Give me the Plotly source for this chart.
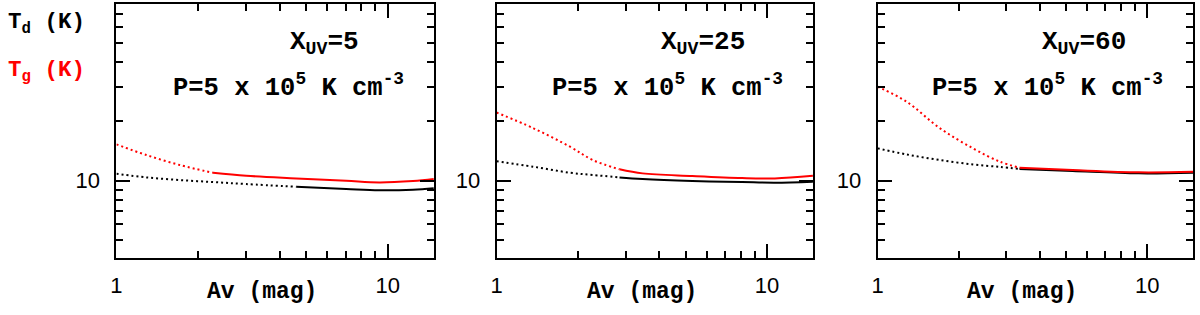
import numpy as np
import plotly.graph_objects as go

# ---------------- data ----------------
av_p1 = [1.0, 1.29, 1.71, 2.27, 3.01, 4.6, 7.03, 9.31, 12.4, 14.8]
tg_p1 = [15.3, 13.5, 12.02, 10.98, 10.6, 10.28, 10.0, 9.81, 9.97, 10.2]
td_p1 = [10.85, 10.4, 10.08, 9.85, 9.62, 9.32, 9.08, 8.94, 9.0, 9.15]

av_p2 = [1.0, 1.37, 1.87, 2.27, 2.85, 3.47, 5.3, 8.09, 10.7, 14.8]
tg_p2 = [22.2, 18.46, 14.88, 12.74, 11.43, 10.9, 10.57, 10.32, 10.28, 10.6]
td_p2 = [12.55, 11.78, 10.98, 10.7, 10.4, 10.2, 9.97, 9.85, 9.77, 9.89]

av_p3 = [1.0, 1.28, 1.70, 2.26, 2.84, 3.36, 5.29, 9.31, 14.8]
tg_p3 = [30.0, 25.2, 18.5, 14.6, 12.5, 11.64, 11.33, 11.03, 11.1]
td_p3 = [14.6, 13.6, 12.74, 12.1, 11.75, 11.47, 11.2, 10.9, 10.98]

# Av beyond which the model curves are drawn as solid lines
solid_from_tg = [2.27, 2.85, 3.36]
solid_from_td = [4.6, 2.85, 3.36]

xuv_labels = ["X<sub>UV</sub>=5", "X<sub>UV</sub>=25", "X<sub>UV</sub>=60"]
pressure_label = "P=5 x 10<sup>5</sup> K cm<sup>-3</sup>"
x_label = "Av (mag)"
x_tickvals = [1, 10]
x_minor = [2, 3, 4, 5, 6, 7, 8, 9]
y_tickvals = [10]
y_minor = [5, 6, 7, 8, 9, 20, 30, 40, 50, 60, 70]

panels = [
    (av_p1, tg_p1, td_p1),
    (av_p2, tg_p2, td_p2),
    (av_p3, tg_p3, td_p3),
]

# ---------------- layout geometry ----------------
W, H = 1200, 315
x_px = [(111, 430), (493, 811), (876, 1193)]
y_top, y_bot = 4, 258.3
ydom = [1 - y_bot / H, 1 - y_top / H]

MONO = "Liberation Mono"
SANS = "Liberation Sans"

fig = go.Figure()

def split(av, vals, cut):
    a1 = [a for a in av if a <= cut]
    v1 = [v for a, v in zip(av, vals) if a <= cut]
    a2 = [a for a in av if a >= cut]
    v2 = [v for a, v in zip(av, vals) if a >= cut]
    return a1, v1, a2, v2

for i, (av, tg, td) in enumerate(panels):
    xa = "x" if i == 0 else f"x{i+1}"
    ya = "y" if i == 0 else f"y{i+1}"
    for vals, col, cut in ((td, "black", solid_from_td[i]), (tg, "red", solid_from_tg[i])):
        a1, v1, a2, v2 = split(av, vals, cut)
        fig.add_trace(go.Scatter(x=a1, y=v1, xaxis=xa, yaxis=ya, mode="lines",
                                 line=dict(color=col, width=2, dash="2px,3px", shape="spline"),
                                 showlegend=False, hoverinfo="skip"))
        fig.add_trace(go.Scatter(x=a2, y=v2, xaxis=xa, yaxis=ya, mode="lines",
                                 line=dict(color=col, width=2, shape="spline"),
                                 showlegend=False, hoverinfo="skip"))

    axis_common = dict(
        type="log", showline=True, linecolor="black", linewidth=2, mirror="allticks",
        ticks="inside", ticklen=14, tickwidth=2, tickcolor="black",
        showgrid=False, zeroline=False,
        tickfont=dict(family=SANS, size=22, color="black"),
    )
    xkey = "xaxis" if i == 0 else f"xaxis{i+1}"
    ykey = "yaxis" if i == 0 else f"yaxis{i+1}"
    fig.update_layout(**{
        xkey: dict(axis_common,
                   domain=[x_px[i][0] / W, x_px[i][1] / W],
                   range=[0, np.log10(14.8)],
                   anchor=ya,
                   tickmode="array", tickvals=x_tickvals, ticktext=[str(v) for v in x_tickvals],
                   ticklabelstandoff=6,
                   minor=dict(tickmode="array", tickvals=x_minor, ticks="inside",
                              ticklen=7, tickwidth=2, tickcolor="black", showgrid=False)),
        ykey: dict(axis_common,
                   domain=ydom,
                   range=[np.log10(4.04), np.log10(78.9)],
                   anchor=xa,
                   tickmode="array", tickvals=y_tickvals, ticktext=[str(v) for v in y_tickvals],
                   ticklabelstandoff=10,
                   minor=dict(tickmode="array", tickvals=y_minor, ticks="inside",
                              ticklen=7, tickwidth=2, tickcolor="black", showgrid=False)),
    })

    xr = x_px[i][1]
    fig.add_annotation(text=xuv_labels[i], xref="paper", yref="paper",
                       x=(xr - 110) / W, y=1 - 43 / H, xanchor="center", yanchor="middle",
                       showarrow=False, font=dict(family=MONO, size=26, color="black", weight="bold"))
    fig.add_annotation(text=pressure_label, xref="paper", yref="paper",
                       x=(xr - 146) / W, y=1 - 86 / H, xanchor="center", yanchor="middle",
                       showarrow=False, font=dict(family=MONO, size=25.5, color="black", weight="bold"))
    fig.add_annotation(text=x_label, xref="paper", yref="paper",
                       x=((x_px[i][0] + x_px[i][1]) / 2 - 13) / W, y=1 - 292 / H,
                       xanchor="center", yanchor="middle",
                       showarrow=False, font=dict(family=MONO, size=23, color="black", weight="bold"))

fig.add_annotation(text="T<sub>d</sub> (K)", xref="paper", yref="paper",
                   x=0, y=1 - 24 / H, xanchor="left", yanchor="middle",
                   showarrow=False, font=dict(family=MONO, size=22.5, color="black", weight="bold"))
fig.add_annotation(text="T<sub>g</sub> (K)", xref="paper", yref="paper",
                   x=0, y=1 - 72 / H, xanchor="left", yanchor="middle",
                   showarrow=False, font=dict(family=MONO, size=22.5, color="red", weight="bold"))

fig.update_layout(width=W, height=H, margin=dict(l=0, r=0, t=0, b=0),
                  paper_bgcolor="white", plot_bgcolor="white", showlegend=False)

fig.write_html("out.html", config={"displayModeBar": False},
               post_script="document.body.style.margin='0';document.body.style.overflow='hidden';")
